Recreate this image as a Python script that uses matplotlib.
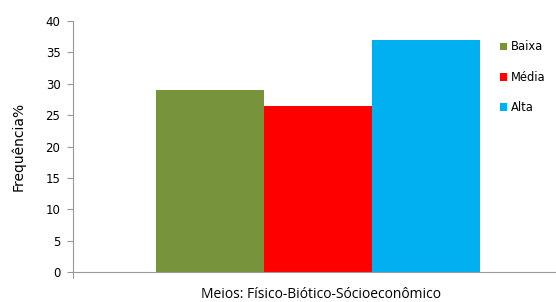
import matplotlib
matplotlib.use("Agg")
import matplotlib.pyplot as plt
from matplotlib.patches import Patch

categories = ["Baixa", "Média", "Alta"]
values = [29, 26.5, 37]
colors = ["#77933C", "#FF0000", "#00B0F0"]
yticks = [0, 5, 10, 15, 20, 25, 30, 35, 40]

fig = plt.figure(figsize=(5.56, 3.02), dpi=100)
ax = fig.add_axes([73/556, 30/302, 490/556, 251/302])

x = list(range(len(categories)))
ax.bar(x, values, width=1.0, color=colors)
gap = 83/108
ax.set_xlim(-0.5 - gap, 2.5 + gap)
ax.set_ylim(0, 40)
ax.set_yticks(yticks)
ax.set_xticks([-0.5 - gap])
ax.set_xticklabels([""])
ax.tick_params(axis="y", direction="out", length=4.5, width=0.8, color="#999999",
               labelsize=8.5, pad=4.5, labelcolor="#000000")
ax.tick_params(axis="x", direction="out", length=4, width=0.8, color="#999999")
for s in ["top", "right"]:
    ax.spines[s].set_visible(False)
for s in ["left", "bottom"]:
    ax.spines[s].set_color("#999999")
    ax.spines[s].set_linewidth(0.8)

ax.set_ylabel("Frequência%", fontsize=10)
ax.yaxis.set_label_coords(-0.097, 0.502)
ax.set_xlabel("Meios: Físico-Biótico-Sócioeconômico", fontsize=10, family="Open Sans")
ax.xaxis.set_label_coords((321-73)/490, -(294.5-272)/251)
ax.xaxis.label.set_va("center")

handles = [Patch(facecolor=c, edgecolor="none") for c in colors]
fig.legend(handles, categories, loc="upper left", bbox_to_anchor=(500/556, 1 - 40.5/302),
           frameon=False, prop={"family": "DejaVu Sans", "size": 8.3},
           handlelength=0.63, handleheight=0.63,
           handletextpad=0.35, labelspacing=1.5, borderaxespad=0, borderpad=0)

fig.savefig("out.png", dpi=100)
